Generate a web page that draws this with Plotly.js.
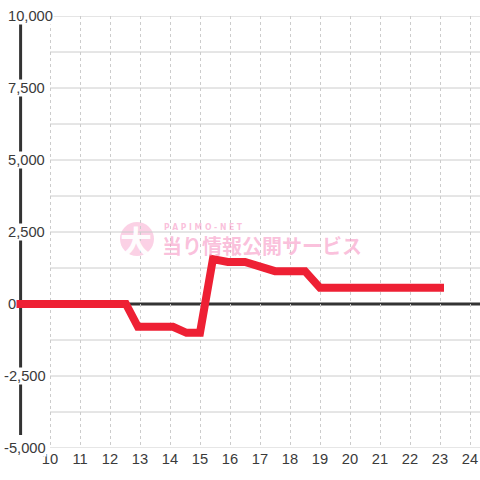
<!DOCTYPE html>
<html>
<head>
<meta charset="utf-8">
<script src="https://cdn.plot.ly/plotly-3.0.1.min.js"></script>
<style>
  html, body { margin: 0; padding: 0; background: #fff; }
  #chart { width: 480px; height: 480px; }
  .scatterlayer .js-line { stroke-linecap: square; }
</style>
</head>
<body>
<div id="chart"></div>
<script>
// ---- data ----
const hours = [9, 12.53, 12.93, 14.1, 14.55, 15.0, 15.43, 15.93, 16.5, 17.07, 17.5, 18.5, 19.0, 23];
const balance = [0, 0, -790, -790, -1000, -1000, 1560, 1460, 1460, 1250, 1140, 1140, 560, 560];
const xTickVals = [10, 11, 12, 13, 14, 15, 16, 17, 18, 19, 20, 21, 22, 23, 24];
const yTickVals = [10000, 7500, 5000, 2500, 0, -2500, -5000];
const yTickText = ['10,000', '7,500', '5,000', '2,500', '0', '-2,500', '-5,000'];
const yGridVals = [-5000, -3750, -2500, -1250, 1250, 2500, 3750, 5000, 6250, 7500, 8750, 10000];

const X_MIN = 10 - 50 / 30, X_MAX = 10 + 430 / 30;
const font = 'Liberation Sans, Arial, sans-serif';

const shapes = [];
// horizontal gridlines starting at the first hour tick
yGridVals.forEach(v => shapes.push({
  type: 'line', layer: 'below', xref: 'x', yref: 'y',
  x0: 10, x1: X_MAX, y0: v, y1: v,
  line: { color: '#cccccc', width: 1 }
}));
// zero line
shapes.push({
  type: 'line', layer: 'below', xref: 'x', yref: 'y',
  x0: 8.9, x1: X_MAX, y0: 0, y1: 0,
  line: { color: '#333333', width: 3 }
});
// y axis line
shapes.push({
  type: 'line', layer: 'below', xref: 'x', yref: 'y',
  x0: 9.02, x1: 9.02, y0: -4550, y1: 9720,
  line: { color: '#333333', width: 3 }
});
// watermark circle
shapes.push({
  type: 'circle', layer: 'below', xref: 'paper', yref: 'paper',
  x0: 120 / 480, x1: 154 / 480, y0: (448 - 256) / 432, y1: (448 - 222) / 432,
  fillcolor: 'rgba(246, 140, 190, 0.4)', line: { width: 0 }
});

const annotations = [];
yTickVals.forEach((v, i) => annotations.push({
  xref: 'paper', yref: 'y', x: (v < 0 ? 3 : 7) / 480, y: v,
  xanchor: 'left', yanchor: 'middle', showarrow: false,
  text: yTickText[i], bgcolor: '#ffffff', borderpad: 0,
  font: { family: font, size: 14.7, color: '#3a3a3a' }
}));
// watermark texts
annotations.push({
  xref: 'paper', yref: 'paper', x: 136 / 480, y: (448 - 240) / 432,
  xanchor: 'center', yanchor: 'middle', showarrow: false,
  text: '<b>大</b>', font: { family: 'Noto Sans CJK JP', size: 32, color: 'rgba(255,255,255,0.95)' }
});
annotations.push({
  xref: 'paper', yref: 'paper', x: 162 / 480, y: (448 - 226.5) / 432,
  xanchor: 'left', yanchor: 'middle', showarrow: false,
  text: '<b>P A P I M O - N E T</b>', font: { family: 'DejaVu Sans Condensed, DejaVu Sans', size: 8.5, color: 'rgba(246, 140, 190, 0.55)' }
});
annotations.push({
  xref: 'paper', yref: 'paper', x: 160 / 480, y: (448 - 245.5) / 432,
  xanchor: 'left', yanchor: 'middle', showarrow: false,
  text: '<b>当り情報公開サービス</b>', font: { family: 'Noto Sans CJK JP', size: 20, color: 'rgba(246, 140, 190, 0.55)' }
});

const trace = {
  x: hours, y: balance, type: 'scatter', mode: 'lines',
  line: { color: '#ee2034', width: 8 },
  hoverinfo: 'skip'
};

const layout = {
  width: 480, height: 480,
  margin: { l: 0, r: 0, t: 16, b: 32, pad: 0 },
  paper_bgcolor: '#ffffff', plot_bgcolor: '#ffffff',
  showlegend: false,
  xaxis: {
    range: [X_MIN, X_MAX], tickvals: xTickVals, ticktext: xTickVals.map(String),
    showgrid: true, gridcolor: '#cccccc', griddash: 'dot', gridwidth: 1,
    zeroline: false, showline: false, ticks: '',
    tickfont: { family: font, size: 14.7, color: '#3a3a3a' }
  },
  yaxis: {
    range: [-5000, 10000], showgrid: false, zeroline: false, showline: false,
    showticklabels: false, ticks: ''
  },
  shapes: shapes,
  annotations: annotations
};

Plotly.newPlot('chart', [trace], layout, { staticPlot: true, displayModeBar: false });
</script>
</body>
</html>
